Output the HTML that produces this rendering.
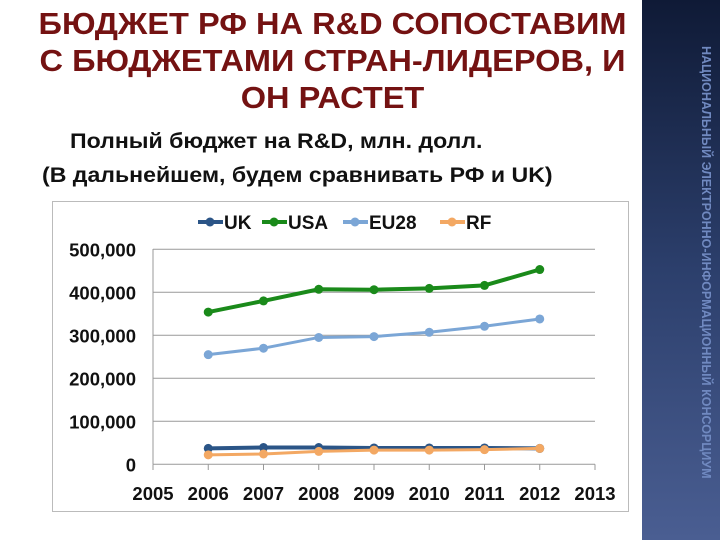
<!DOCTYPE html>
<html><head><meta charset="utf-8"><style>
body{margin:0;width:720px;height:540px;overflow:hidden;background:#fff;font-family:"Liberation Sans","DejaVu Sans",sans-serif;position:relative}
.t{position:absolute;left:0;width:665px;text-align:center;font-weight:bold;font-size:31px;color:#741212;line-height:37px;top:5px;transform:scaleX(1.05);transform-origin:332px 0}
.s{position:absolute;font-size:21px;font-weight:bold;color:#111;white-space:nowrap;transform:scaleX(1.1);transform-origin:0 0}
.side{position:absolute;left:642px;top:0;width:78px;height:540px;background:linear-gradient(180deg,#0f1a36 0%,#2c3f6c 50%,#4a5e92 100%)}
.vt{position:absolute;left:704px;top:46px;transform-origin:0 0;transform:translate(9px,0) rotate(90deg);white-space:nowrap;font-size:12.5px;font-weight:bold;color:#7089c0}
</style></head><body>
<div class="t">БЮДЖЕТ РФ НА R&amp;D СОПОСТАВИМ<br>С БЮДЖЕТАМИ СТРАН-ЛИДЕРОВ, И<br>ОН РАСТЕТ</div>
<div class="s" style="left:70px;top:130px">Полный бюджет на R&amp;D, млн. долл.</div>
<div class="s" style="left:42px;top:164px">(В дальнейшем, будем сравнивать РФ и UK)</div>
<div class="side"></div>
<div class="vt">НАЦИОНАЛЬНЫЙ ЭЛЕКТРОННО-ИНФОРМАЦИОННЫЙ КОНСОРЦИУМ</div>
<svg id="c" width="720" height="540" style="position:absolute;left:0;top:0"></svg>
<script>
const years=[2006,2007,2008,2009,2010,2011,2012];
const xTicks=[2005,2006,2007,2008,2009,2010,2011,2012,2013];
const yTicks=[0,100000,200000,300000,400000,500000];
const uk=[37000,39000,39000,38000,38000,38000,37000];
const usa=[354000,380000,407000,406000,409000,416000,453000];
const eu28=[255000,270000,295000,297000,307000,321000,338000];
const rf=[22000,24000,30000,33000,33000,34000,37000];
const names=['UK','USA','EU28','RF'];
const colors=['#2b5587','#1a8a1a','#7ba6d6','#f3a863'];
const widths=[4,4,3,3];
const NS='http://www.w3.org/2000/svg';
const svg=document.getElementById('c');
const x=v=>153+(v-2005)*(595-153)/8;
const y=v=>464.3-v*(464.3-249.3)/500000;
function mk(t,a){const e=document.createElementNS(NS,t);for(const k in a)e.setAttribute(k,a[k]);svg.appendChild(e);return e;}
const box=mk('rect',{x:52.5,y:201.5,width:576,height:310,fill:'none',stroke:'#bbb'});


yTicks.forEach(v=>{
 const g=mk('line',{x1:153,x2:595,y1:y(v),y2:y(v),stroke:'#999','stroke-width':1});
 
 
 const t=mk('text',{x:136,y:y(v)+7,'text-anchor':'end','font-size':18.5,'font-weight':'bold',fill:'#111','font-family':'Liberation Sans'});
 t.textContent=v.toLocaleString('en-US');
 
 
});
const ax=mk('line',{x1:153,x2:153,y1:249,y2:464.3,stroke:'#999'});


xTicks.forEach(v=>{
 const tk=mk('line',{x1:x(v),x2:x(v),y1:464.3,y2:470,stroke:'#999'});
 
 
 const t=mk('text',{x:x(v),y:500,'text-anchor':'middle','font-size':18.5,'font-weight':'bold',fill:'#111','font-family':'Liberation Sans'});
 t.textContent=v;
 
 
});
[uk,usa,eu28,rf].forEach((s,i)=>{
 const p=mk('polyline',{points:s.map((v,j)=>x(years[j])+','+y(v)).join(' '),fill:'none',stroke:colors[i],'stroke-width':widths[i]});
 
 
 s.forEach((v,j)=>{
  const c=mk('circle',{cx:x(years[j]),cy:y(v),r:4.5,fill:colors[i]});
  
  
 });
});
const lx=[198,262,343,440];
names.forEach((n,i)=>{
 const l=mk('line',{x1:lx[i],x2:lx[i]+25,y1:222,y2:222,stroke:colors[i],'stroke-width':4});
 
 
 const c=mk('circle',{cx:lx[i]+12,cy:222,r:4.5,fill:colors[i]});
 
 
 const t=mk('text',{x:lx[i]+26,y:229,'font-size':19,'font-weight':'bold',fill:'#111','font-family':'Liberation Sans'});
 t.textContent=n;
 
 
});
</script>
</body></html>
